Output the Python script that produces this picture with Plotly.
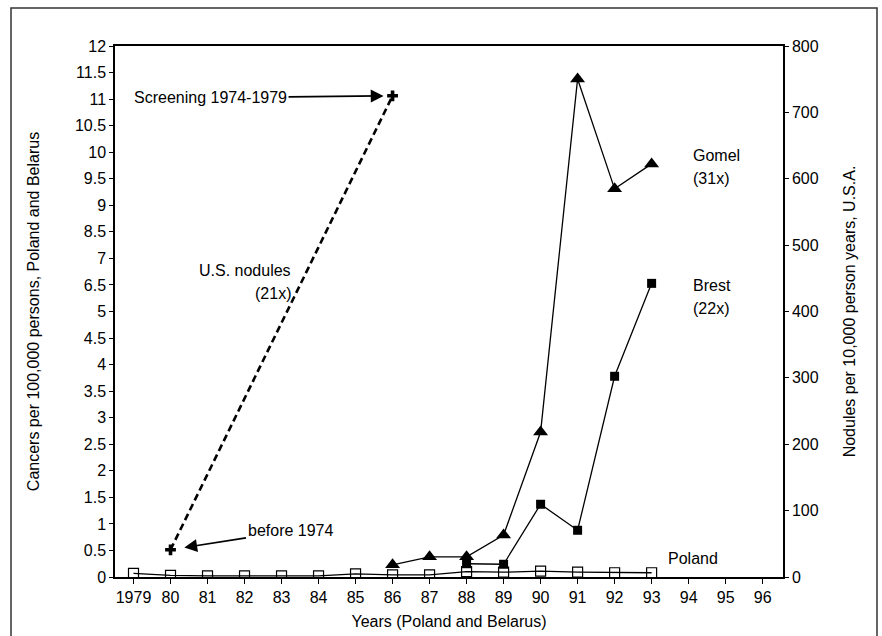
import plotly.graph_objects as go

# ---- data -------------------------------------------------------------
years = list(range(1979, 1997))
year_labels = ["1979"] + [str(y)[2:] for y in years[1:]]

# cancers per 100,000 (left axis, axis units)
poland_years = list(range(1979, 1994))
poland_vals = [0.07, 0.03, 0.02, 0.02, 0.02, 0.02, 0.06, 0.04, 0.04,
               0.10, 0.09, 0.11, 0.09, 0.08, 0.08]

brest_years = [1988, 1989, 1990, 1991, 1992, 1993]
brest_vals = [0.25, 0.24, 1.37, 0.88, 3.78, 5.53]

gomel_years = [1986, 1987, 1988, 1989, 1990, 1991, 1992, 1993]
gomel_vals = [0.23, 0.38, 0.38, 0.79, 2.73, 9.38, 7.31, 7.78]

# U.S. nodules per 10,000 person years (right axis)
us_years = [1980, 1986]
us_vals = [41, 725]

# left axis: tick positions and their printed labels
left_tickvals = [i * 0.5 for i in range(21)]
left_ticktext = ["0", "0.5", "1", "1.5", "2", "2.5", "3", "3.5", "4", "4.5",
                 "5", "6.5", "7", "8.5", "9", "9.5", "10", "10.5", "11", "11.5", "12"]
right_tickvals = list(range(0, 801, 100))

# ---- geometry ---------------------------------------------------------
W, H = 882, 636
L, R, T, B = 115, 783, 46, 577


def px(x):
    return (x - L) / (R - L)


def py(y):
    return (B - y) / (B - T)


FONT = "Liberation Sans, Arial, sans-serif"
fig = go.Figure()

fig.add_trace(go.Scatter(
    x=poland_years, y=poland_vals, mode="lines+markers",
    line=dict(color="black", width=1.3),
    marker=dict(symbol="square-open", size=10, color="black", line=dict(width=1.2)),
    name="Poland"))

fig.add_trace(go.Scatter(
    x=brest_years, y=brest_vals, mode="lines+markers",
    line=dict(color="black", width=1.3),
    marker=dict(symbol="square", size=9, color="black"),
    name="Brest"))

fig.add_trace(go.Scatter(
    x=gomel_years, y=gomel_vals, mode="lines+markers",
    line=dict(color="black", width=1.3),
    marker=dict(symbol="triangle-up", size=13, color="black"),
    name="Gomel"))

fig.add_trace(go.Scatter(
    x=us_years, y=us_vals, yaxis="y2", mode="lines+markers",
    line=dict(color="black", width=2.6, dash="7px,4px"),
    marker=dict(symbol="cross", size=9, color="black"),
    name="U.S. nodules"))

annotations = []


def label(text, x, y, xanchor="left"):
    annotations.append(dict(
        text=text, xref="paper", yref="paper", x=px(x), y=py(y),
        xanchor=xanchor, yanchor="middle", showarrow=False,
        font=dict(family=FONT, size=16, color="black")))


label("Gomel", 691, 155)
label("(31x)", 691, 178)
label("Brest", 691, 285)
label("(22x)", 691, 308)
label("U.S. nodules", 293, 270, "right")
label("(21x)", 293, 293, "right")
label("Poland", 666, 558)

# arrows pointing to the U.S. nodule points
annotations.append(dict(
    text="Screening 1974-1979", x=us_years[1], y=us_vals[1], xref="x", yref="y2",
    ax=-182, ay=2, showarrow=True, arrowhead=2, arrowsize=1.6, arrowwidth=1.6,
    arrowcolor="black", standoff=9,
    font=dict(family=FONT, size=16, color="black")))
annotations.append(dict(
    text="before 1974", x=us_years[0], y=us_vals[0], xref="x", yref="y2",
    ax=120, ay=-19, showarrow=True, arrowhead=2, arrowsize=1.6, arrowwidth=1.6,
    arrowcolor="black", standoff=14,
    font=dict(family=FONT, size=16, color="black")))

# outer frame around the whole figure
shapes = [dict(type="rect", xref="paper", yref="paper",
               x0=px(11), x1=px(877), y0=py(640), y1=py(8),
               line=dict(color="#333333", width=1.5), fillcolor="rgba(0,0,0,0)")]

fig.update_layout(
    width=W, height=H,
    margin=dict(l=L, r=W - R, t=T, b=H - B, autoexpand=False),
    paper_bgcolor="white", plot_bgcolor="white",
    showlegend=False,
    font=dict(family=FONT, size=16, color="black"),
    xaxis=dict(
        range=[1978.5, 1996.55], tickvals=years, ticktext=year_labels,
        ticks="outside", ticklen=5, tickcolor="black", showgrid=False,
        zeroline=False, showline=True, linecolor="black", linewidth=1.5, mirror=True,
        automargin=False,
        title=dict(text="Years (Poland and Belarus)", standoff=11,
                   font=dict(family=FONT, size=16)),
        tickfont=dict(family=FONT, size=16)),
    yaxis=dict(
        range=[0, 10], tickvals=left_tickvals, ticktext=left_ticktext,
        ticks="outside", ticklen=4, tickcolor="black", showgrid=False,
        zeroline=False, showline=True, linecolor="black", linewidth=1.5,
        automargin=False,
        title=dict(text="Cancers per 100,000 persons, Poland and Belarus", standoff=31,
                   font=dict(family=FONT, size=16)),
        tickfont=dict(family=FONT, size=16)),
    yaxis2=dict(
        range=[0, 800], tickvals=right_tickvals, overlaying="y", side="right",
        ticks="outside", ticklen=4, tickcolor="black", showgrid=False,
        zeroline=False, showline=True, linecolor="black", linewidth=1.5,
        automargin=False,
        title=dict(text="Nodules per 10,000 person years, U.S.A.", standoff=26,
                   font=dict(family=FONT, size=16)),
        tickfont=dict(family=FONT, size=16)),
    annotations=annotations,
    shapes=shapes,
)

fig.write_html("out.html")
